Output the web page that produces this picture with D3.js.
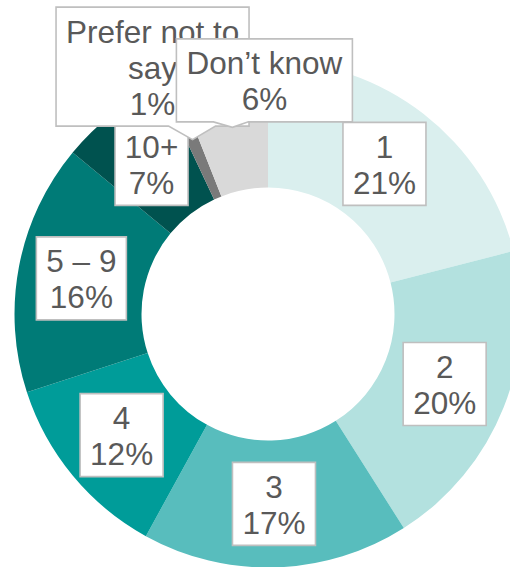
<!DOCTYPE html>
<html>
<head>
<meta charset="utf-8">
<script src="https://cdn.jsdelivr.net/npm/d3@7"></script>
<style>
  html, body { margin: 0; padding: 0; background: #ffffff; overflow: hidden; }
  svg { display: block; }
</style>
</head>
<body>
<div id="chart"></div>
<script>
// Number of items answered, share of respondents (%)
const categories = ["1", "2", "3", "4", "5 \u2013 9", "10+", "Prefer not to\nsay", "Don\u2019t know"];
const shares = [21, 20, 17, 12, 16, 7, 1, 6];
const sliceColors = ["#daefee", "#b3e1df", "#58bdbd", "#009c99", "#007b77", "#00524f", "#7a7a7a", "#d9d9d9"];

// Callout boxes moved away from their slice: box centre offset from the slice centroid,
// and the pointer base span along the box's bottom edge (relative to the box centre).
const callouts = {
  6: { dx: -40, dy: -73, base: [16, 63] },
  7: { dx: 32, dy: -47, base: [-51, -16] }
};

const width = 510, height = 567;
const cx = 268, cy = 314;
const outerR = 253.5, innerR = 126.5;
const fontSize = 31.5, lineH = 36, padX = 10, padY = 5.5;

const svg = d3.select("#chart").append("svg")
  .attr("width", width).attr("height", height);

const g = svg.append("g").attr("transform", `translate(${cx},${cy})`);

const pie = d3.pie().sort(null).value(d => d).startAngle(0).endAngle(2 * Math.PI);
const arcs = pie(shares);
const arc = d3.arc().innerRadius(innerR).outerRadius(outerR);

g.selectAll("path.slice")
  .data(arcs)
  .join("path")
  .attr("class", "slice")
  .attr("d", arc)
  .attr("fill", (d, i) => sliceColors[i]);

// Data labels: category and percentage in a white bordered box
const labels = g.append("g").attr("class", "labels");

arcs.forEach((d, i) => {
  const [px, py] = arc.centroid(d);
  const lines = categories[i].split("\n").concat([d3.format("d")(shares[i]) + "%"]);
  const co = callouts[i];
  const bx = px + (co ? co.dx : 0);
  const by = py + (co ? co.dy : 0);

  const lg = labels.append("g");
  const box = lg.append("path");
  const txt = lg.append("text")
    .attr("font-family", "Liberation Sans, Arial, sans-serif")
    .attr("font-size", fontSize)
    .attr("fill", "#595959")
    .attr("text-anchor", "middle");

  const n = lines.length;
  lines.forEach((s, k) => {
    txt.append("tspan")
      .attr("x", bx)
      .attr("y", by + (k - (n - 1) / 2) * lineH + 12)
      .text(s);
  });

  let maxW = 0;
  txt.selectAll("tspan").each(function () {
    maxW = Math.max(maxW, this.getComputedTextLength());
  });
  const w = Math.round(maxW + 2 * padX);
  const h = n * lineH + 2 * padY;
  const x0 = bx - w / 2, x1 = bx + w / 2, y0 = by - h / 2, y1 = by + h / 2;

  let dPath;
  if (co) {
    const b0 = bx + co.base[0], b1 = bx + co.base[1];
    dPath = `M${x0},${y0}H${x1}V${y1}H${b1}L${px},${py}L${b0},${y1}H${x0}Z`;
  } else {
    dPath = `M${x0},${y0}H${x1}V${y1}H${x0}Z`;
  }
  box.attr("d", dPath)
    .attr("fill", "#ffffff")
    .attr("stroke", "#bfbfbf")
    .attr("stroke-width", 1.6)
    .attr("stroke-linejoin", "miter");
});
</script>
</body>
</html>
